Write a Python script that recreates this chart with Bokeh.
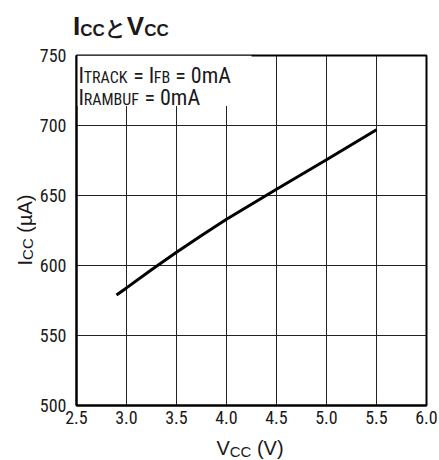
from bokeh.plotting import figure
from bokeh.models import Label, BoxAnnotation, FixedTicker, Range1d, Div
from bokeh.layouts import column, row
from bokeh.embed import file_html
from bokeh.resources import INLINE

# ---- data ----
vcc = [2.9, 3.0, 3.25, 3.5, 3.75, 4.0, 4.5, 5.0, 5.5]
icc = [579, 584, 597, 609.5, 621.5, 633, 654.5, 675.5, 697]
x_ticks = [2.5, 3.0, 3.5, 4.0, 4.5, 5.0, 5.5, 6.0]
x_tick_labels = ["2.5", "3.0", "3.5", "4.0", "4.5", "5.0", "5.5", "6.0"]
y_ticks = [500, 550, 600, 650, 700, 750]
y_tick_labels = ["500", "550", "600", "650", "700", "750"]

FONT = "Roboto Condensed"
CJK = "Noto Sans CJK JP"
INK = "#1a1a1a"

# approximate advance widths (em) of Roboto Condensed (Roboto x 0.88)
RW = {"I": 0.272, "T": 0.617, "R": 0.62, "A": 0.652, "C": 0.652, "K": 0.627,
      "F": 0.553, "B": 0.622, "M": 0.872, "U": 0.648, "V": 0.636, " ": 0.248,
      "=": 0.549, "0": 0.562, "m": 0.876}


def tw(s, size):
    return sum(RW.get(ch, 0.56) for ch in s) * size * 0.88


# ---- figure (frame 352 x 350) ----
p = figure(width=403, height=390, x_range=Range1d(2.5, 6.0), y_range=Range1d(500, 750),
           output_backend="svg", toolbar_location=None, margin=0,
           min_border_left=38, min_border_right=13, min_border_top=10, min_border_bottom=30)
p.background_fill_color = "white"
p.border_fill_color = "white"
p.outline_line_color = "black"
p.outline_line_width = 2

p.xaxis.ticker = FixedTicker(ticks=x_ticks)
p.yaxis.ticker = FixedTicker(ticks=y_ticks)
p.xaxis.major_label_overrides = {t: l for t, l in zip(x_ticks, x_tick_labels)}
p.yaxis.major_label_overrides = {t: l for t, l in zip(y_ticks, y_tick_labels)}
for ax in (p.xaxis, p.yaxis):
    ax.major_tick_line_color = None
    ax.minor_tick_line_color = None
    ax.major_tick_out = 0
    ax.major_tick_in = 0
    ax.minor_tick_out = 0
    ax.minor_tick_in = 0
    ax.axis_line_color = "black"
    ax.axis_line_width = 2
    ax.major_label_text_font = FONT
    ax.major_label_text_font_size = "18px"
    ax.major_label_text_color = INK
p.xaxis.major_label_standoff = 5
p.yaxis.major_label_standoff = 10

p.xgrid.ticker = FixedTicker(ticks=x_ticks)
p.ygrid.ticker = FixedTicker(ticks=y_ticks)
for g in (p.xgrid, p.ygrid):
    g.grid_line_color = "#222222"
    g.grid_line_width = 1
    g.grid_line_alpha = 1.0

p.line(vcc, icc, line_color="black", line_width=3)

# white box behind the condition text (covers the grid only)
p.add_layout(BoxAnnotation(left=2.5, right=4.25, top=750, bottom=714,
                           fill_color="white", fill_alpha=1.0, line_color=None,
                           level="underlay"))


def run(pieces, x0, y0):
    adv = 0.0
    for text, size, sub in pieces:
        lead = len(text) - len(text.lstrip(" "))
        p.add_layout(Label(x=x0 + adv + tw(" " * lead, size), y=y0 - (2 if sub else 0),
                           x_units="screen", y_units="screen",
                           text=text.strip(" "), text_font=FONT, text_font_size=f"{size}px",
                           text_color=INK, text_baseline="alphabetic", text_align="left"))
        adv += tw(text, size)


# condition text (screen units relative to the frame, origin bottom-left)
run([("I", 22, False), ("TRACK", 16, True), (" = I", 22, False), ("FB", 16, True),
     (" = 0mA", 22, False)], 2, 330)
run([("I", 22, False), ("RAMBUF", 16, True), (" = 0mA", 22, False)], 2, 308)

# ---- texts outside the frame, as SVG text in Divs ----
title_svg = (
    '<svg width="439" height="45" style="display:block">'
    f'<text x="73" y="35" font-family="{FONT}" font-weight="bold" font-size="26" fill="{INK}">'
    'I<tspan font-size="17" dy="1">CC</tspan>'
    f'<tspan font-family="{CJK}" font-size="21" dy="-1">と</tspan>'
    'V<tspan font-size="17" dy="1">CC</tspan></text></svg>'
)
ylabel_svg = (
    '<svg width="36" height="390" style="display:block">'
    f'<text transform="translate(31.5,185) rotate(-90)" text-anchor="middle" '
    f'font-family="{FONT}" font-size="20" fill="{INK}" style="white-space:pre">'
    'I<tspan font-size="15" dy="1.5">CC</tspan><tspan font-size="20" dy="-1.5"> (µA)</tspan>'
    '</text></svg>'
)
xlabel_svg = (
    '<svg width="439" height="25" style="display:block">'
    f'<text x="250" y="20" text-anchor="middle" font-family="{FONT}" font-size="20" '
    f'fill="{INK}" style="white-space:pre">'
    'V<tspan font-size="15" dy="2">CC</tspan><tspan font-size="20" dy="-2"> (V)</tspan>'
    '</text></svg>'
)

title_div = Div(text=title_svg, width=439, height=45, margin=0)
ylabel_div = Div(text=ylabel_svg, width=36, height=390, margin=0)
xlabel_div = Div(text=xlabel_svg, width=439, height=25, margin=0)

layout = column(title_div, row(ylabel_div, p, spacing=0, margin=0), xlabel_div,
                spacing=0, margin=0)
open("out.html", "w").write(file_html(layout, INLINE))
